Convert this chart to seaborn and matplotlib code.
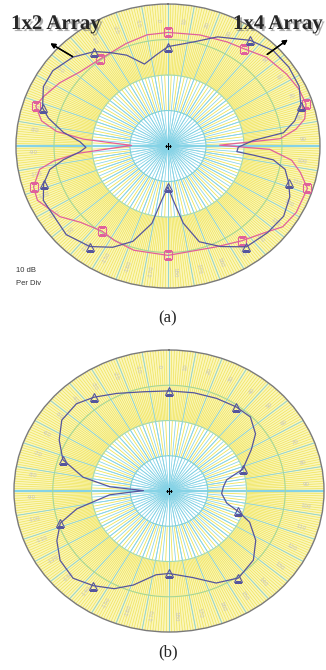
import numpy as np
import pandas as pd
import matplotlib
matplotlib.use('Agg')
import matplotlib.pyplot as plt
import matplotlib.patheffects as pe
import seaborn as sns

# (a) 1x4 array pattern, angle (deg, clockwise from top) vs gain (dB)
a4_angle = [0, 15, 28, 36, 46, 57, 65, 72, 78, 82, 86, 89, 92, 97, 102, 108, 119, 127,
            134, 144, 156, 180, 197, 208, 216, 227, 235, 246, 252, 259, 262, 265, 271,
            275, 278, 282, 288, 293, 302, 312, 324, 339, 350, 360]
a4_db = [-8.0, -7.6, -6.8, -6.1, -4.0, -2.8, -2.0, -1.8, -3.2, -6.0, -10.4, -26.4, -13.2,
         -7.2, -4.4, -1.4, -1.4, -2.2, -4.8, -7.0, -8.9, -9.2, -9.3, -9.9, -10.4, -8.5,
         -5.3, -2.4, -2.8, -5.6, -9.6, -16.0, -30.4, -17.6, -10.4, -6.0, -3.4, -4.4,
         -6.4, -8.8, -9.7, -9.1, -8.2, -8.0]

# (a) 1x2 array pattern
a2_angle = [0, 13, 23, 36, 46, 55, 64, 72, 78, 83, 86, 91, 95, 96.5, 98, 102, 108, 114,
            123, 133, 144, 154, 163, 169.5, 175, 180, 186, 191, 199, 207, 216, 227, 245,
            252, 258, 262, 266, 269, 273, 278, 284, 288, 297, 305, 315, 324, 330, 337,
            345, 353, 360]
a2_db = [-12.0, -9.9, -6.6, -3.2, -1.4, -1.2, -1.6, -3.2, -5.9, -9.4, -17.5, -21.5, -21.8,
         -17.4, -12.0, -8.5, -6.6, -4.9, -3.7, -4.2, -4.9, -8.5, -11.8, -17.9, -24.8,
         -28.5, -24.8, -17.8, -11.6, -8.0, -5.0, -3.4, -3.8, -5.6, -8.2, -12.2, -16.8,
         -18.4, -16.8, -12.2, -7.6, -5.3, -3.2, -3.0, -4.6, -7.1, -9.6, -12.2, -16.1,
         -14.2, -12.0]

# (b) pattern
b_angle = [0, 13, 25, 36, 45, 54, 61, 72, 78, 85, 93, 103, 108, 113, 122, 132, 144, 155,
           166, 180, 188, 199, 207, 216, 225, 235, 244, 252, 258, 266, 271, 274.5, 280,
           288, 297, 306, 316, 324, 334, 347, 360]
b_db = [-11.6, -11.4, -11.0, -10.5, -10.3, -12.4, -15.7, -20.0, -24.8, -25.9, -26.4, -24.7,
        -21.2, -17.4, -13.6, -10.7, -9.5, -11.2, -14.7, -16.6, -16.0, -11.8, -8.9, -6.8,
        -5.0, -5.7, -7.8, -10.5, -15.7, -24.7, -33.4, -24.7, -17.5, -11.2, -8.2, -5.8,
        -5.6, -7.1, -9.2, -11.1, -11.6]

label_angles = list(range(0, 360, 10))

sns.set_theme(style='white')
plt.rcParams['font.family'] = ['DejaVu Sans']

CYAN = '#86d3e6'
YELLOW = '#efe45a'
PINK = '#e0609c'
BLUE = '#55559e'


def draw_grid(ax):
    ax.set_theta_zero_location('N')
    ax.set_theta_direction(-1)
    ax.set_aspect('auto')
    ax.grid(False)
    th = np.linspace(0, 2 * np.pi, 361)
    ax.fill_between(th, -20, 0, color='#fbf6bc', lw=0, zorder=0)
    deg1 = np.deg2rad(np.arange(0, 360, 1))
    ax.vlines(deg1, -20, 0, color=YELLOW, lw=0.5, zorder=0.5)
    deg_half = np.deg2rad(np.arange(2.5, 360, 5))
    ax.vlines(deg_half, -30, -20, color=YELLOW, lw=0.6, zorder=0.5)
    deg5 = np.deg2rad(np.arange(0, 360, 5))
    ax.vlines(deg5, -40, -20, color=CYAN, lw=0.55, zorder=0.6)
    deg10 = np.deg2rad(np.arange(0, 360, 10))
    ax.vlines(deg10, -40, 0, color=CYAN, lw=0.6, zorder=0.6)
    ax.vlines(np.deg2rad([90, 270]), -40, 0, color=CYAN, lw=1.6, zorder=0.6)
    ax.plot(th, np.full_like(th, -30), color='#80d0d8', lw=0.8, zorder=0.7)
    ax.plot(th, np.full_like(th, -20), color='#a4d9b4', lw=0.8, zorder=0.7)
    ax.plot(th, np.full_like(th, -10), color='#a6d696', lw=0.8, zorder=0.7)
    for a in label_angles:
        txt = str(a) if a <= 180 else str(a - 360)
        rot = 90 - a
        while rot > 90:
            rot -= 180
        while rot < -90:
            rot += 180
        ax.text(np.deg2rad(a - 3), -4.5, txt, rotation=rot, ha='center', va='center',
                fontsize=4, color='#c4c4c4', zorder=0.8)
    ax.plot([0], [-40], marker='+', color='black', ms=5, mew=0.8, zorder=5)
    ax.set_xticks([])
    ax.set_yticks([])
    ax.spines['polar'].set_color('#7a7a7a')
    ax.spines['polar'].set_linewidth(1.0)


def draw_pattern(ax, angle, db, color, marker):
    df = pd.DataFrame({'theta': np.deg2rad(angle), 'gain': db})
    idx = [i for i, a in enumerate(angle) if a % 36 == 0 and a < 360]
    sns.lineplot(data=df, x='theta', y='gain', ax=ax, sort=False, estimator=None,
                 color=color, lw=0.9, marker=marker, markevery=idx, ms=5.5,
                 mfc='none', mec=color, mew=0.8, zorder=3)


fig = plt.figure(figsize=(3.26, 6.70), dpi=100)

ax1 = fig.add_axes([0.049, 0.5701, 0.9325, 0.4239], projection='polar')
draw_grid(ax1)
draw_pattern(ax1, a4_angle, a4_db, PINK, 's')
draw_pattern(ax1, a2_angle, a2_db, BLUE, '^')
ax1.set_ylim(-40, 0)
ax1.set_xlabel('')
ax1.set_ylabel('')

ax2 = fig.add_axes([0.0429, 0.0567, 0.951, 0.4209], projection='polar')
draw_grid(ax2)
draw_pattern(ax2, b_angle, b_db, BLUE, '^')
ax2.set_ylim(-40, 0)
ax2.set_xlabel('')
ax2.set_ylabel('')

shadow = [pe.SimplePatchShadow(offset=(1.5, -1.5), shadow_rgbFace='#777777', alpha=0.6),
          pe.Normal()]
fig.text(11 / 326, 1 - 29 / 670, '1x2 Array', family='Liberation Serif', weight='bold',
         fontsize=15, ha='left', va='baseline', path_effects=shadow)
fig.text(233 / 326, 1 - 29 / 670, '1x4 Array', family='Liberation Serif', weight='bold',
         fontsize=15, ha='left', va='baseline', path_effects=shadow)
arrow = dict(arrowstyle='-|>', color='black', lw=1.0, mutation_scale=7)
fig.add_artist(plt.annotate('', xy=(48 / 326, 1 - 42 / 670), xytext=(75 / 326, 1 - 58 / 670),
                            xycoords='figure fraction', textcoords='figure fraction',
                            arrowprops=arrow))
fig.add_artist(plt.annotate('', xy=(290 / 326, 1 - 38 / 670), xytext=(265 / 326, 1 - 56 / 670),
                            xycoords='figure fraction', textcoords='figure fraction',
                            arrowprops=arrow))

fig.text(16 / 326, 1 - 271 / 670, '10 dB', family='Liberation Sans', fontsize=5.5,
         color='#333333', ha='left', va='center')
fig.text(16 / 326, 1 - 284 / 670, 'Per Div', family='Liberation Sans', fontsize=5.5,
         color='#333333', ha='left', va='center')

fig.text(168 / 326, 1 - 318 / 670, '(a)', family='Liberation Serif', fontsize=12,
         ha='center', va='center')
fig.text(168 / 326, 1 - 652 / 670, '(b)', family='Liberation Serif', fontsize=12,
         ha='center', va='center')

fig.savefig('out.png', dpi=100)
